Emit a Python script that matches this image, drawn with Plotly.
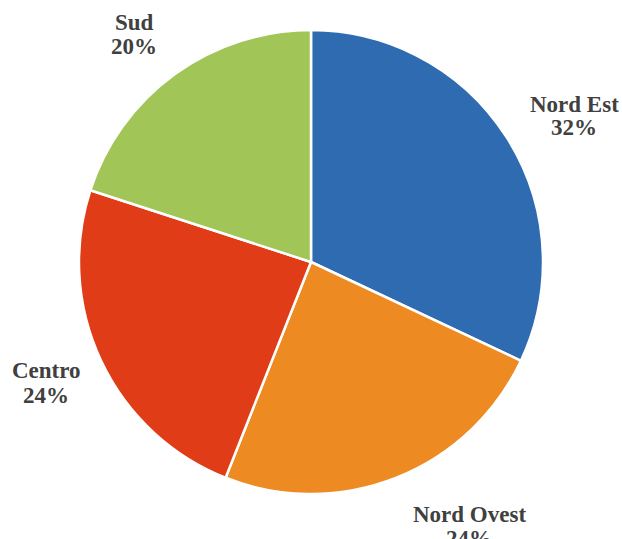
import plotly.graph_objects as go

# Regional share data
regions = ["Nord Est", "Nord Ovest", "Centro", "Sud"]
shares = [32, 24, 24, 20]
colors = ["#2F6BB0", "#EE8A22", "#E03C17", "#A1C557"]

# Label anchor points (pixels from top-left) for the name line and percent line
label_x = [574, 469, 46, 134]
name_y = [105, 514, 370, 23]
pct_y = [127, 538, 395, 47]

W, H = 622, 539
cx, cy, r = 311, 262, 232

fig = go.Figure(
    go.Pie(
        labels=regions,
        values=shares,
        sort=False,
        direction="clockwise",
        rotation=0,
        textinfo="none",
        hoverinfo="label+percent",
        marker=dict(colors=colors, line=dict(color="white", width=2.5)),
        domain=dict(
            x=[(cx - r) / W, (cx + r) / W],
            y=[(H - cy - r) / H, (H - cy + r) / H],
        ),
        showlegend=False,
    )
)

font = dict(family="Liberation Serif, Times New Roman, serif", size=23, color="#404040")
annotations = []
for name, val, x, y1, y2 in zip(regions, shares, label_x, name_y, pct_y):
    annotations.append(dict(text=f"<b>{name}</b>", x=x / W, y=1 - y1 / H,
                            xref="paper", yref="paper", xanchor="center",
                            yanchor="middle", showarrow=False, font=font))
    annotations.append(dict(text=f"<b>{val}%</b>", x=x / W, y=1 - y2 / H,
                            xref="paper", yref="paper", xanchor="center",
                            yanchor="middle", showarrow=False, font=font))

fig.update_layout(
    width=W,
    height=H,
    margin=dict(l=0, r=0, t=0, b=0),
    paper_bgcolor="white",
    plot_bgcolor="white",
    annotations=annotations,
)

fig.write_html("out.html")
